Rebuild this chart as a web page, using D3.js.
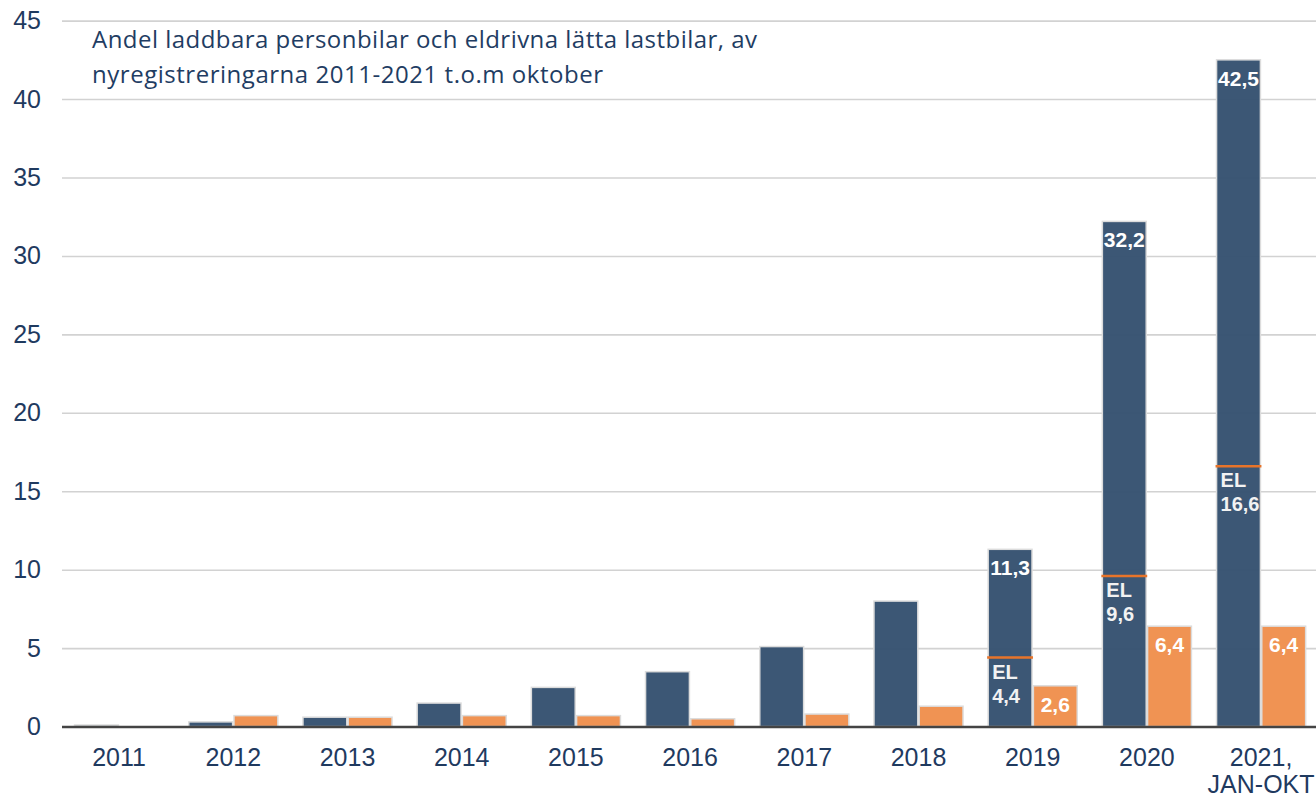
<!DOCTYPE html>
<html>
<head>
<meta charset="utf-8">
<script src="https://cdn.jsdelivr.net/npm/d3@7"></script>
<style>
  html, body { margin: 0; padding: 0; background: #fff; }
  svg { display: block; }
</style>
</head>
<body>
<div id="chart"></div>
<script>
// Data
var years = ['2011', '2012', '2013', '2014', '2015', '2016', '2017', '2018', '2019', '2020', '2021'];
var yearLabels = [['2011'], ['2012'], ['2013'], ['2014'], ['2015'], ['2016'], ['2017'], ['2018'], ['2019'], ['2020'], ['2021,', 'JAN-OKT']];
var laddbara = [0.1, 0.3, 0.6, 1.5, 2.5, 3.5, 5.1, 8.0, 11.3, 32.2, 42.5];
var lattaLastbilar = [0, 0.7, 0.6, 0.7, 0.7, 0.5, 0.8, 1.3, 2.6, 6.4, 6.4];
var elAndel = [null, null, null, null, null, null, null, null, 4.4, 9.6, 16.6];
var showLabel = [false, false, false, false, false, false, false, false, true, true, true];
var yTicks = [0, 5, 10, 15, 20, 25, 30, 35, 40, 45];
var titleLines = ['Andel laddbara personbilar och eldrivna lätta lastbilar, av', 'nyregistreringarna 2011-2021 t.o.m oktober'];

var attrs = {
  svgWidth: 1316,
  svgHeight: 797,
  marginLeft: 62,
  plotRight: 1318.2,
  yTop: 20.6,
  yBottom: 726.6,
  navy: '#34506f',
  orange: '#ef8f4c',
  elLine: '#e8742a',
  textFill: '#1f3a5f',
  font: 'Liberation Sans, Arial, Helvetica, sans-serif'
};

var fmt = d3.formatLocale({ decimal: ',', thousands: ' ', grouping: [3], currency: ['', ' kr'] }).format('.1f');

var rows = years.map((y, i) => ({
  year: y,
  label: yearLabels[i],
  pb: laddbara[i],
  ll: lattaLastbilar[i],
  el: elAndel[i],
  show: showLabel[i]
}));

var svg = d3.select('#chart').append('svg')
  .attr('width', attrs.svgWidth)
  .attr('height', attrs.svgHeight)
  .attr('font-family', attrs.font);

var x0 = d3.scaleBand().domain(years).range([attrs.marginLeft, attrs.plotRight]).paddingInner(0.22).paddingOuter(0.11);
var x1 = d3.scaleBand().domain(['pb', 'll']).range([0, x0.bandwidth()]).paddingInner(0.03);
var y = d3.scaleLinear().domain([0, 45]).range([attrs.yBottom, attrs.yTop]);

// gridlines
svg.append('g')
  .attr('class', 'grid')
  .attr('transform', 'translate(' + attrs.marginLeft + ',0)')
  .call(d3.axisLeft(y).tickValues(yTicks.filter(d => d > 0)).tickSize(-(attrs.svgWidth - attrs.marginLeft)).tickFormat(''))
  .call(g => g.select('.domain').remove())
  .call(g => g.selectAll('line').attr('stroke', '#d2d2d2').attr('stroke-width', 1.6));

// y axis labels
svg.append('g')
  .attr('transform', 'translate(41,0)')
  .call(d3.axisLeft(y).tickValues(yTicks).tickSize(0).tickPadding(0))
  .call(g => g.select('.domain').remove())
  .call(g => g.selectAll('text')
    .attr('fill', attrs.textFill)
    .attr('font-size', 25)
    .attr('font-family', attrs.font));

// bars
var groups = svg.append('g').selectAll('g.year')
  .data(rows)
  .join('g')
  .attr('class', 'year')
  .attr('transform', d => 'translate(' + x0(d.year) + ',0)');

groups.selectAll('rect')
  .data(d => [{ key: 'pb', v: d.pb }, { key: 'll', v: d.ll }].filter(s => s.v > 0))
  .join('rect')
  .attr('x', d => x1(d.key))
  .attr('width', x1.bandwidth())
  .attr('y', d => y(d.v))
  .attr('height', d => y(0) - y(d.v))
  .attr('fill', d => d.key == 'pb' ? attrs.navy : attrs.orange)
  .attr('fill-opacity', 0.96)
  .attr('stroke', '#dcdcdc')
  .attr('stroke-width', 1.5);

// base line
svg.append('line')
  .attr('x1', attrs.marginLeft)
  .attr('x2', attrs.svgWidth)
  .attr('y1', y(0) + 0.5)
  .attr('y2', y(0) + 0.5)
  .attr('stroke', '#444')
  .attr('stroke-width', 2.5);

// x labels
var xl = svg.append('g').selectAll('text.xl')
  .data(rows)
  .join('text')
  .attr('class', 'xl')
  .attr('x', d => x0(d.year) + x0.bandwidth() / 2)
  .attr('y', 766)
  .attr('text-anchor', 'middle')
  .attr('fill', attrs.textFill)
  .attr('font-size', 25);
xl.selectAll('tspan')
  .data(d => d.label)
  .join('tspan')
  .attr('x', function () { return d3.select(this.parentNode).attr('x'); })
  .attr('dy', (d, i) => i == 0 ? 0 : 27)
  .text(d => d);

// EL markers
groups.filter(d => d.el != null).append('line')
  .attr('x1', x1('pb') - 1)
  .attr('x2', x1('pb') + x1.bandwidth() + 1)
  .attr('y1', d => y(d.el))
  .attr('y2', d => y(d.el))
  .attr('stroke', attrs.elLine)
  .attr('stroke-width', 2.5);

var elText = groups.filter(d => d.el != null).append('text')
  .attr('x', x1('pb') + 4)
  .attr('y', d => y(d.el) + 21)
  .attr('fill', '#f2f2f2')
  .attr('font-size', 20)
  .attr('font-weight', 'bold');
elText.append('tspan').text('EL');
elText.append('tspan').attr('x', x1('pb') + 4).attr('dy', 24).text(d => fmt(d.el));

// value labels
groups.filter(d => d.show).selectAll('text.val')
  .data(d => [{ key: 'pb', v: d.pb }, { key: 'll', v: d.ll }])
  .join('text')
  .attr('class', 'val')
  .attr('x', d => x1(d.key) + x1.bandwidth() / 2)
  .attr('y', d => y(d.v) + 26)
  .attr('text-anchor', 'middle')
  .attr('fill', '#fff')
  .attr('font-size', 21)
  .attr('font-weight', 'bold')
  .text(d => fmt(d.v));

// title
var titleWidths = [665, 511];
svg.append('g').selectAll('text.title')
  .data(titleLines)
  .join('text')
  .attr('class', 'title')
  .attr('x', 92)
  .attr('y', (d, i) => 48 + i * 35)
  .attr('fill', '#1f3d63')
  .attr('font-family', 'Open Sans, sans-serif')
  .attr('font-size', 24)
  .attr('textLength', (d, i) => titleWidths[i])
  .attr('lengthAdjust', 'spacing')
  .text(d => d);
</script>
</body>
</html>
